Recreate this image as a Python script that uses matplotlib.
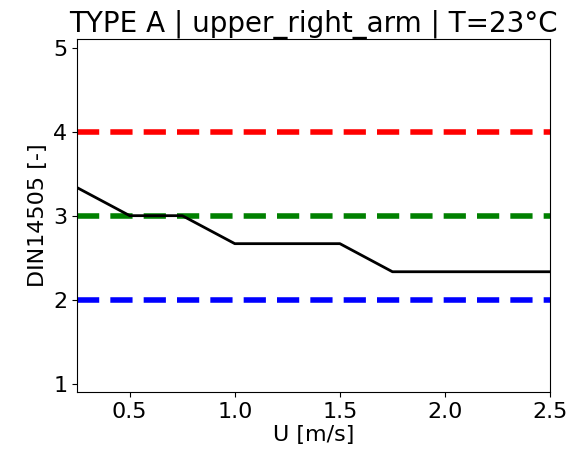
import matplotlib.pyplot as plt
import numpy as np

# wind speed [m/s] and DIN14505 rating
u_values = [0.25, 0.5, 0.75, 1.0, 1.25, 1.5, 1.75, 2.0, 2.25, 2.5]
din_values = [3.333, 3.0, 3.0, 2.667, 2.667, 2.667, 2.333, 2.333, 2.333, 2.333]

# reference thresholds
thresholds = [4, 3, 2]
threshold_colors = ["red", "green", "blue"]

title = "TYPE A | upper_right_arm | T=23°C"

fig, ax = plt.subplots(figsize=(5.76, 4.55), dpi=100)
for level, color in zip(thresholds, threshold_colors):
  ax.axhline(level, color=color, linestyle="--", linewidth=4, dashes=(4, 2))
ax.plot(u_values, din_values, color="black", linewidth=2)

ax.set_xlim(0.25, 2.5)
ax.set_ylim(0.9, 5.1)
ax.set_xticks([0.5, 1.0, 1.5, 2.0, 2.5])
ax.set_yticks([1, 2, 3, 4, 5])
ax.tick_params(labelsize=16)
ax.set_xlabel("U [m/s]", fontsize=16, labelpad=2)
ax.set_ylabel("DIN14505 [-]", fontsize=16)
ax.set_title(title, fontsize=20, pad=4)

fig.subplots_adjust(left=0.134, right=0.955, top=0.914, bottom=0.138)
fig.savefig("out.png")
